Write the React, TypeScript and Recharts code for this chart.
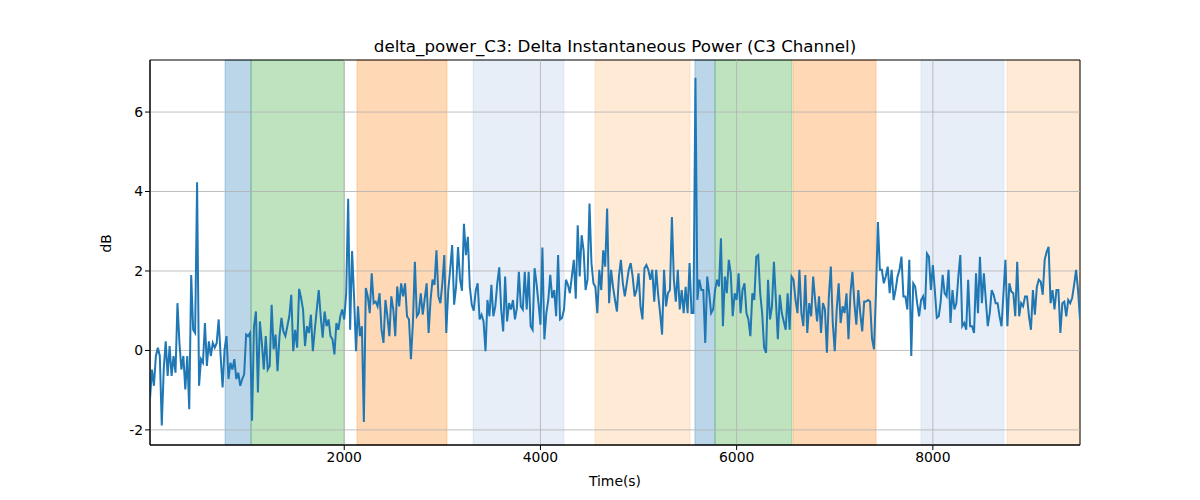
import React from 'react';
import {
  LineChart,
  Line,
  XAxis,
  YAxis,
  ReferenceArea,
  ReferenceLine,
} from 'recharts';

const chartTitle = 'delta_power_C3: Delta Instantaneous Power (C3 Channel)';
const xLabel = 'Time(s)';
const yLabel = 'dB';

const startTime = 20;
const sampleStep = 20;

const values: number[] = [
  // 0-45
  -1.22, -0.48, -0.89, -0.14, 0.07, -0.14, -1.89, -0.48, 0.23, -0.64, 0.11, -0.64, -0.14, -0.56, 1.19, 0.19,
  -0.48, -0.14, -0.98, -0.14, -1.48, 1.9, 0.52, 0.44, 4.23, -0.89, -0.22, -0.31, 0.69, -0.39, 0.23, -0.14,
  0.19, 0.07, 0.19, 0.78, -0.14, -0.93, 0.03, 0.36, -0.72, -0.31, -0.48, -0.22, -0.72, -0.56,
  // 46-91
  -0.89, -0.72, -0.6, 0.4, 0.36, 0.44, -1.77, 0.61, 0.98, -1.06, 0.73, 0.19, -0.48, 0.36, -0.48, -0.39,
  1.15, 0.03, 0.4, -0.52, 0.36, 0.82, 0.48, 0.36, 0.61, 0.86, 1.4, -0.02, 0.52, 0.07, 1.55, 1.32,
  1.03, 0.11, 0.61, 0.44, 0.9, -0.02, 0.52, 1.03, 1.52, 0.86, 0.32, 0.98, 0.61, 0.78,
  // 92-137
  0.36, 0.28, -0.1, 0.69, 0.52, 0.86, 1.03, 0.78, 1.44, 3.82, 0.52, 2.5, 1.36, -0.02, 1.11, 0.36,
  0.61, -1.8, 1.57, 1.36, 0.94, 1.94, 1.19, 1.23, 1.11, 1.44, 0.52, 0.19, 1.27, 0.86, 0.36, 1.36,
  1.03, 0.36, 1.61, 1.11, 1.69, 1.36, 1.69, 0.86, 0.78, -0.22, 0.69, 2.23, 0.86, 0.94,
  // 138-184
  1.44, 0.9, 1.3, 1.69, 0.44, 1.27, 1.78, 1.65, 2.52, 1.36, 1.19, 1.69, 2.4, 0.44, 1.5, 2.05,
  2.65, 1.15, 1.6, 2.6, 1.8, 1.5, 3.19, 2.4, 2.86, 1.6, 1.15, 1.0, 1.5, 1.69, 0.78, 0.9,
  0.73, -0.02, 1.27, 0.86, 1.65, 0.86, 1.11, 1.69, 2.09, 1.03, 0.48, 1.86, 0.73, 1.19, 1.03,
  // 185-230
  1.27, 0.78, 1.07, 1.98, 1.11, 1.03, 1.98, 1.03, 1.98, 0.61, 0.52, 2.07, 1.69, 1.19, 0.65, 2.59,
  0.28, 0.94, 1.27, 1.9, 1.32, 1.52, 0.86, 2.4, 0.78, 0.82, 1.03, 1.78, 1.65, 1.44, 1.86, 2.28,
  1.3, 3.15, 1.86, 2.9, 2.52, 1.52, 1.78, 3.7, 2.2, 1.69, 1.6, 0.94, 2.03, 1.52,
  // 231-276
  2.52, 2.11, 3.57, 1.19, 2.03, 1.6, 1.27, 0.98, 1.86, 2.28, 1.69, 1.36, 1.69, 2.03, 2.2, 1.86,
  1.36, 1.52, 1.94, 1.11, 0.78, 2.07, 2.15, 2.03, 1.78, 2.03, 1.23, 2.03, 1.4, 0.94, 0.4, 2.03,
  1.11, 1.44, 1.52, 3.36, 1.78, 1.23, 2.03, 1.03, 1.52, 0.94, 1.6, 0.94, 2.2, 0.94,
  // 277-322
  0.94, 6.86, 1.27, 1.78, 1.52, 1.52, 0.19, 1.86, 1.44, 0.94, 1.03, 1.52, 1.78, 1.61, 2.82, 0.61,
  1.86, 1.44, 2.28, 1.94, 0.86, 1.44, 1.27, 1.94, 0.94, 1.52, 1.69, 0.94, 0.78, 0.36, 1.44, 1.27,
  2.36, 2.4, 1.44, 0.94, 0.07, -0.06, 1.78, 0.78, 1.11, 2.23, 1.27, 0.28, 1.4, 0.94,
  // 323-368
  0.73, 0.52, 1.44, 0.52, 1.86, 1.78, 1.27, 0.94, 2.03, 0.94, 0.61, 1.9, 0.44, 1.19, 0.86, 1.86,
  1.27, 0.73, 1.36, 0.44, 1.19, 1.03, -0.06, 1.36, 2.11, 0.69, -0.02, 1.03, 1.69, 0.69, 1.11, 0.94,
  1.44, 0.28, 1.44, 1.98, 1.19, 0.65, 1.52, 0.94, 0.48, 1.23, 1.23, 1.27, 1.23, 0.3,
  // 369-414
  0.03, 1.44, 3.23, 2.03, 2.03, 1.69, 1.86, 2.11, 1.44, 2.03, 1.27, 1.52, 1.86, 2.03, 2.36, 1.36,
  1.36, 1.03, 2.28, -0.14, 1.69, 1.61, 1.19, 0.86, 1.27, 1.36, 1.03, 2.44, 2.36, 1.52, 2.15, 1.52,
  0.82, 0.86, 1.23, 1.9, 1.44, 1.36, 2.03, 0.69, 1.52, 1.03, 1.19, 1.86, 2.4, 0.61,
  // 415-460
  0.69, 0.52, 1.78, 0.61, 0.61, 0.44, 1.94, 0.94, 2.36, 1.19, 1.94, 1.27, 0.61, 0.94, 1.52, 1.4,
  1.19, 1.19, 0.86, 0.61, 1.44, 2.28, 0.61, 1.69, 1.48, 1.44, 0.86, 2.23, 0.86, 1.19, 1.11, 1.36,
  1.36, 0.86, 0.52, 1.52, 0.9, 1.6, 1.78, 1.73, 1.4, 2.28, 2.48, 2.61, 1.19, 1.52,
  // 461-474
  1.03, 1.52, 1.52, 0.44, 1.19, 1.23, 0.86, 1.27, 1.19, 1.32, 1.65, 2.03, 1.52, 0.78,
];

const spanStarts = [785, 1050, 2130, 3313, 4556, 5575, 5780, 6575, 7879, 8756];
const spanEnds = [1050, 2000, 3047, 4240, 5525, 5780, 6564, 7421, 8725, 9500];
const spanColors = [
  '#1f77b4', '#2ca02c', '#ff7f0e', '#aec7e8', '#ffbb78',
  '#1f77b4', '#2ca02c', '#ff7f0e', '#aec7e8', '#ffbb78',
];

const xTicks = [2000, 4000, 6000, 8000];
const yTicks = [-2, 0, 2, 4, 6];
const xDomain: [number, number] = [20, 9500];
const yDomain: [number, number] = [-2.38, 7.31];

const data = values.map((v, i) => ({ t: startTime + i * sampleStep, v }));

const FONT = 'DejaVu Sans, sans-serif';

export default function App() {
  return (
    <div style={{ position: 'absolute', left: 0, top: 0, width: 1200, height: 500, background: '#fff', fontFamily: FONT }}>
      <div
        style={{
          position: 'absolute',
          left: 0,
          width: 1230,
          top: 36,
          textAlign: 'center',
          fontSize: 16.7,
          color: '#000',
          fontFamily: FONT,
          lineHeight: '20px',
        }}
      >
        {chartTitle}
      </div>
      <LineChart
        width={1200}
        height={500}
        data={data}
        margin={{ top: 60, right: 120, bottom: 10, left: 90 }}
      >
        {spanStarts.map((s, i) => (
          <ReferenceArea
            key={'span' + i}
            x1={s}
            x2={spanEnds[i]}
            y1={yDomain[0]}
            y2={yDomain[1]}
            fill={spanColors[i]}
            fillOpacity={0.3}
            stroke={spanColors[i]}
            strokeOpacity={0.3}
            strokeWidth={1}
          />
        ))}
        {xTicks.map((t) => (
          <ReferenceLine key={'gx' + t} x={t} stroke="#b0b0b0" strokeWidth={0.8} />
        ))}
        {yTicks.map((t) => (
          <ReferenceLine key={'gy' + t} y={t} stroke="#b0b0b0" strokeWidth={0.8} />
        ))}
        <XAxis
          dataKey="t"
          type="number"
          domain={xDomain}
          ticks={xTicks}
          allowDataOverflow
          height={45}
          tickSize={5}
          tickLine={{ stroke: '#000' }}
          axisLine={{ stroke: '#000' }}
          tick={{ fill: '#000', fontSize: 13.9, fontFamily: FONT }}
          label={{ value: xLabel, position: 'insideBottom', offset: 4, fill: '#000', fontSize: 13.9, fontFamily: FONT }}
        />
        <YAxis
          type="number"
          domain={yDomain}
          ticks={yTicks}
          allowDataOverflow
          width={60}
          tickSize={5}
          tickLine={{ stroke: '#000' }}
          axisLine={{ stroke: '#000' }}
          tick={{ fill: '#000', fontSize: 13.9, fontFamily: FONT }}
          label={{ value: yLabel, angle: -90, position: 'insideLeft', offset: 16, fill: '#000', fontSize: 13.9, fontFamily: FONT }}
        />
        <Line
          type="linear"
          dataKey="v"
          stroke="#1f77b4"
          strokeWidth={2}
          dot={false}
          isAnimationActive={false}
        />
        <ReferenceArea
          x1={xDomain[0]}
          x2={xDomain[1]}
          y1={yDomain[0]}
          y2={yDomain[1]}
          fill="none"
          stroke="#000"
          strokeWidth={1}
        />
      </LineChart>
    </div>
  );
}
